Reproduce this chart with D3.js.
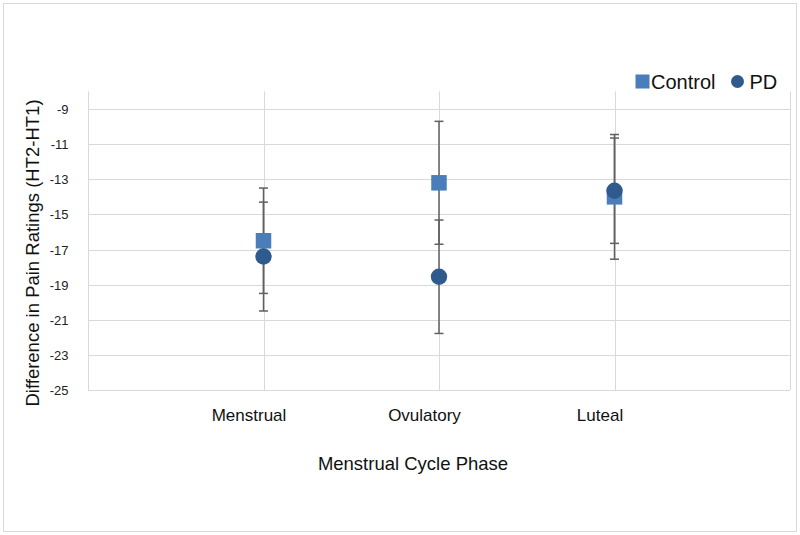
<!DOCTYPE html>
<html>
<head>
<meta charset="utf-8">
<script src="https://cdn.jsdelivr.net/npm/d3@7"></script>
<style>
  html, body { margin: 0; padding: 0; background: #fff; }
  svg { display: block; font-family: "Liberation Sans", Arial, Helvetica, sans-serif; }
</style>
</head>
<body>
<svg id="chart" width="800" height="535"></svg>
<script>
// ---- data ----
const categories = ["Menstrual", "Ovulatory", "Luteal"];
const controlValues = [-16.5, -13.2, -14.0];
const controlErrors = [3.0, 3.5, 3.55];
const pdValues = [-17.4, -18.55, -13.65];
const pdErrors = [3.1, 3.23, 3.0];
const yTicks = [-9, -11, -13, -15, -17, -19, -21, -23, -25];
const seriesNames = ["Control", "PD"];

// ---- layout ----
const svg = d3.select("#chart");
const plot = { left: 88, right: 790, top: 91.5, bottom: 390 };
const colors = { control: "#4a7ebb", pd: "#2f5a8e" };
const gridColor = "#d9d9d9";
const errColor = "#606060";

// outer border
svg.append("rect")
  .attr("x", 3.5).attr("y", 3.5).attr("width", 793).attr("height", 528)
  .attr("fill", "#fff").attr("stroke", "#d9d9d9").attr("stroke-width", 1);

const x = d3.scaleLinear().domain([0, categories.length + 1]).range([plot.left, plot.right]);
const y = d3.scaleLinear().domain([-25, -8]).range([plot.bottom, plot.top]);

// horizontal gridlines + y labels
const yAxis = d3.axisLeft(y).tickValues(yTicks).tickSize(0).tickPadding(0).tickFormat(d => String(d));
const gy = svg.append("g").attr("transform", `translate(${plot.left},0)`).call(yAxis);
gy.select(".domain").remove();
gy.selectAll(".tick text")
  .attr("x", -19.5)
  .attr("dy", "0.35em")
  .attr("fill", "#222")
  .style("font-size", "13px")
  .style("font-family", "'Liberation Sans', Arial, sans-serif");
gy.selectAll(".tick").append("line")
  .attr("x1", 0).attr("x2", plot.right - plot.left)
  .attr("stroke", gridColor).attr("stroke-width", 1)
  .attr("shape-rendering", "crispEdges");

// vertical gridlines (0..4)
const xGrid = d3.range(0, categories.length + 2);
svg.append("g").selectAll("line").data(xGrid).join("line")
  .attr("x1", d => Math.round(x(d)) + 0.5).attr("x2", d => Math.round(x(d)) + 0.5)
  .attr("y1", plot.top).attr("y2", plot.bottom)
  .attr("stroke", gridColor).attr("stroke-width", 1);

// x labels
const xAxis = d3.axisBottom(x)
  .tickValues(categories.map((c, i) => i + 1))
  .tickFormat((d) => categories[d - 1])
  .tickSize(0).tickPadding(0);
const gx = svg.append("g").attr("transform", `translate(-15,${plot.bottom})`).call(xAxis);
gx.select(".domain").remove();
gx.selectAll(".tick text")
  .attr("y", 30.5).attr("dy", 0)
  .attr("fill", "#111")
  .style("font-size", "17px");

// axis titles
svg.append("text")
  .attr("x", 413).attr("y", 470)
  .attr("text-anchor", "middle")
  .attr("fill", "#111")
  .style("font-size", "18.5px")
  .text("Menstrual Cycle Phase");

svg.append("text")
  .attr("transform", "translate(39,253) rotate(-90)")
  .attr("text-anchor", "middle")
  .attr("fill", "#111")
  .style("font-size", "18.5px")
  .text("Difference in Pain Ratings (HT2-HT1)");

// error bars
const errData = [];
categories.forEach((c, i) => {
  errData.push({ xi: i + 1, v: controlValues[i], e: controlErrors[i] });
  errData.push({ xi: i + 1, v: pdValues[i], e: pdErrors[i] });
});
const eg = svg.append("g").attr("stroke", errColor).attr("stroke-width", 1.5).attr("fill", "none");
eg.selectAll("line.v").data(errData).join("line").attr("class", "v")
  .attr("x1", d => x(d.xi)).attr("x2", d => x(d.xi))
  .attr("y1", d => y(d.v + d.e)).attr("y2", d => y(d.v - d.e));
eg.selectAll("line.ct").data(errData).join("line").attr("class", "ct")
  .attr("x1", d => x(d.xi) - 4.5).attr("x2", d => x(d.xi) + 4.5)
  .attr("y1", d => y(d.v + d.e)).attr("y2", d => y(d.v + d.e));
eg.selectAll("line.cb").data(errData).join("line").attr("class", "cb")
  .attr("x1", d => x(d.xi) - 4.5).attr("x2", d => x(d.xi) + 4.5)
  .attr("y1", d => y(d.v - d.e)).attr("y2", d => y(d.v - d.e));

// markers
const sq = 15.5;
svg.append("g").selectAll("rect").data(controlValues).join("rect")
  .attr("x", (d, i) => x(i + 1) - sq / 2)
  .attr("y", d => y(d) - sq / 2)
  .attr("width", sq).attr("height", sq)
  .attr("fill", colors.control);

svg.append("g").selectAll("circle").data(pdValues).join("circle")
  .attr("cx", (d, i) => x(i + 1))
  .attr("cy", d => y(d))
  .attr("r", 8.2)
  .attr("fill", colors.pd);

// legend
const lg = svg.append("g");
lg.append("rect").attr("x", 635.5).attr("y", 74.5).attr("width", 14).attr("height", 14).attr("fill", colors.control);
lg.append("text").attr("x", 651).attr("y", 88.5).attr("fill", "#111").style("font-size", "20px").text(seriesNames[0]);
lg.append("circle").attr("cx", 737.5).attr("cy", 81.5).attr("r", 6.5).attr("fill", colors.pd);
lg.append("text").attr("x", 749.5).attr("y", 88.5).attr("fill", "#111").style("font-size", "20px").text(seriesNames[1]);
</script>
</body>
</html>
